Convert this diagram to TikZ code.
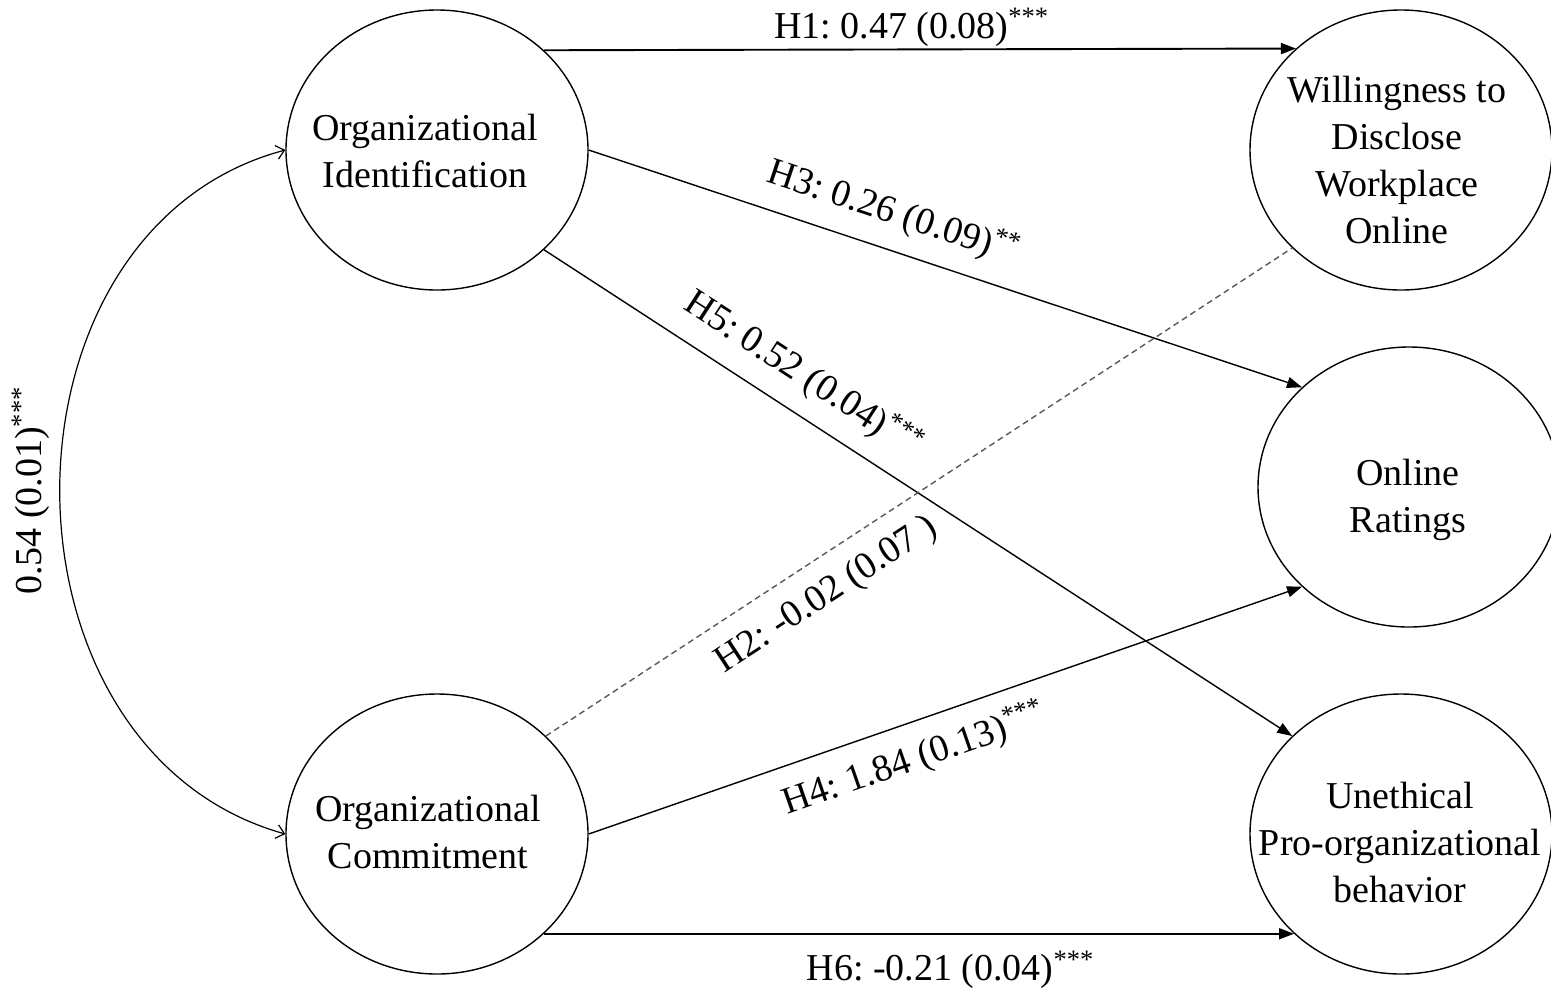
\documentclass[tikz,border=0pt]{standalone}
\usepackage{fontspec}
\setmainfont{Liberation Serif}
\usetikzlibrary{shapes.geometric,arrows.meta}
\frenchspacing
\begin{document}
\begin{tikzpicture}[x=0.5pt,y=-0.5pt,
  every node/.style={font=\fontsize{19}{23.5}\selectfont},
  circ/.style={draw, ellipse, line width=0.7pt, minimum width=151pt, minimum height=140pt, inner sep=0pt},
  txt/.style={align=center, inner sep=0pt},
  conn/.style={line width=0.7pt, -{Triangle[length=7.5pt,width=5.5pt]}},
  thickconn/.style={conn, line width=0.95pt},
  dconn/.style={line width=0.7pt, dash pattern=on 3pt off 2pt, draw=black!65},
  lab/.style={inner sep=1pt},
  corr/.style={line width=0.6pt, {Straight Barb[length=4pt,width=7pt]}-{Straight Barb[length=4pt,width=7pt]}}
]
\useasboundingbox (0,0) rectangle (1551,987);

% latent variables
\node[circ] (OI) at (437,150) {};
\node[circ] (OC) at (437,834) {};
\node[circ] (WD) at (1401,150) {};
\node[circ] (OR) at (1409,487) {};
\node[circ] (UB) at (1401,834) {};

\node[txt] (OIt) at (425,150.5) {Organizational\\Identification};
\node[txt] (OCt) at (428,832) {Organizational\\Commitment};
\node[txt] (WDt) at (1397,160) {Willingness to\\Disclose\\Workplace\\Online};
\node[txt] (ORt) at (1408,499.5) {Online\\Ratings};
\node[txt] (UBt) at (1400,842) {Unethical\\Pro-organizational\\behavior};

% paths
\draw[thickconn] (OI.43) -- node[lab, pos=0.489, above] {H1: 0.47 (0.08)\textsuperscript{***}} (WD.136);
\draw[conn] (OI.0) -- node[lab, pos=0.411, sloped, above=7.5pt] {H3: 0.26 (0.09)\textsuperscript{**}} (OR.137);
\draw[conn] (OI.-43) -- node[lab, pos=0.32, sloped, above=7.5pt] {H5: 0.52 (0.04)\textsuperscript{***}} (UB.138);
\draw[dconn] (OC.42) -- node[lab, pos=0.35, sloped, below=8pt, text=black] {H2: -0.02 (0.07 )} (WD.222);
\draw[conn] (OC.0) -- node[lab, pos=0.44, sloped, below=7pt] {H4: 1.84 (0.13)\textsuperscript{***}} (OR.223);
\draw[thickconn] (OC.-43) -- node[lab, pos=0.542, below=7pt] {H6: -0.21 (0.04)\textsuperscript{***}} (UB.223);

% correlation
\draw[corr] (OI.west) .. controls (-15,230) and (-15,750) .. node[pos=0.5, rotate=90, anchor=south, inner sep=1pt, outer sep=4pt] {0.54 (0.01)\textsuperscript{***}} (OC.west);
\end{tikzpicture}
\end{document}
